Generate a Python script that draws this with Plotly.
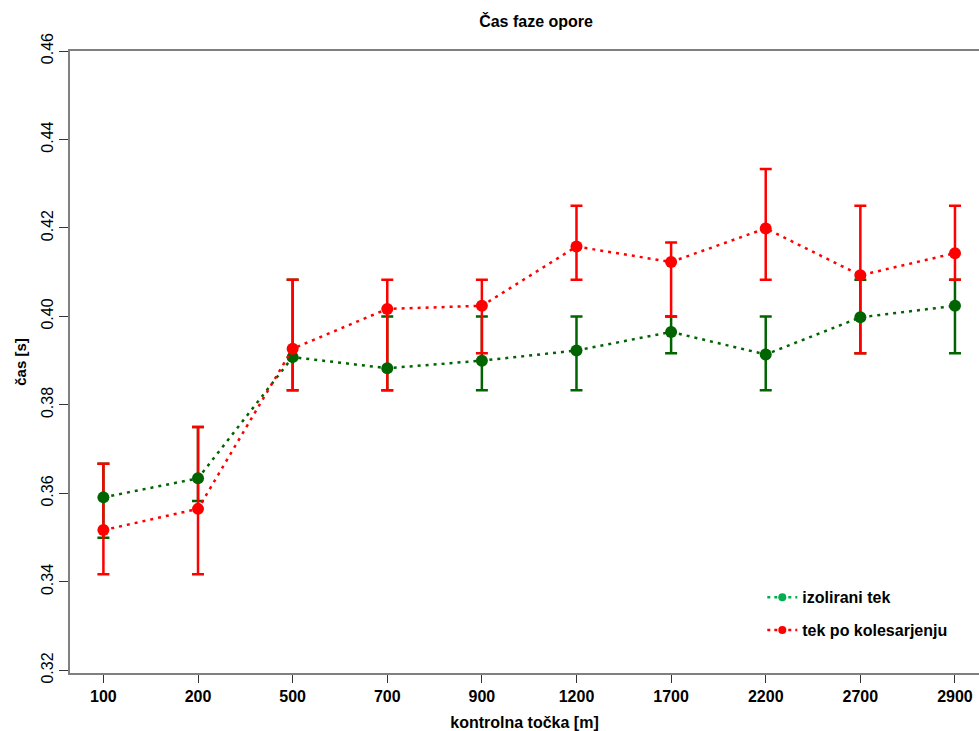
import plotly.graph_objects as go

categories = ["100", "200", "500", "700", "900", "1200", "1700", "2200", "2700", "2900"]

green_mean = [0.3591, 0.3634, 0.3908, 0.3883, 0.3900, 0.3923, 0.3965, 0.3914, 0.3998, 0.4024]
green_upper = [0.3667, 0.3750, 0.4083, 0.4000, 0.4000, 0.4000, 0.4000, 0.4000, 0.4083, 0.4083]
green_lower = [0.3500, 0.3583, 0.3833, 0.3833, 0.3833, 0.3833, 0.3917, 0.3833, 0.3917, 0.3917]

red_mean = [0.3517, 0.3565, 0.3927, 0.4017, 0.4024, 0.4158, 0.4123, 0.4199, 0.4093, 0.4143]
red_upper = [0.3667, 0.3750, 0.4083, 0.4083, 0.4083, 0.4250, 0.4167, 0.4333, 0.4250, 0.4250]
red_lower = [0.3417, 0.3417, 0.3833, 0.3833, 0.3917, 0.4083, 0.4000, 0.4083, 0.3917, 0.4083]

series_names = ["izolirani tek", "tek po kolesarjenju"]
y_ticks = [0.32, 0.34, 0.36, 0.38, 0.40, 0.42, 0.44, 0.46]

GREEN = "#006400"
GREEN_LEG = "#00b050"
RED = "#ff0000"


def err(mean, up, lo):
    return dict(type="data", symmetric=False,
                array=[u - m for u, m in zip(up, mean)],
                arrayminus=[m - l for m, l in zip(mean, lo)])


fig = go.Figure()

# error bars first (green, then red)
for mean, up, lo, col in [(green_mean, green_upper, green_lower, GREEN),
                          (red_mean, red_upper, red_lower, RED)]:
    e = err(mean, up, lo)
    e.update(color=col, thickness=2.5, width=6)
    fig.add_trace(go.Scatter(x=categories, y=mean, mode="markers",
                             marker=dict(size=1, color="rgba(0,0,0,0)"),
                             error_y=e, showlegend=False, hoverinfo="skip"))

# lines + points
for mean, col in [(green_mean, GREEN), (red_mean, RED)]:
    fig.add_trace(go.Scatter(x=categories, y=mean, mode="lines+markers",
                             line=dict(color=col, width=2.5, dash="3px,5px"),
                             marker=dict(size=12, color=col),
                             showlegend=False))

# legend entries
for i, (name, col) in enumerate(zip(series_names, [GREEN_LEG, RED])):
    fig.add_trace(go.Scatter(x=[None], y=[None], mode="lines+markers", name=name,
                             legendgroup=f"g{i}",
                             line=dict(color=col, width=2.5, dash="3px,4px"),
                             marker=dict(size=8, color=col)))

fig.update_layout(
    width=979, height=731,
    margin=dict(l=70, r=0, t=51, b=58),
    paper_bgcolor="white", plot_bgcolor="white",
    font=dict(family="Liberation Sans, Arial, sans-serif", color="#000000"),
    title=dict(text="<b>Čas faze opore</b>", x=0.5127, xref="paper",
               y=1 - 21 / 731, yref="container", xanchor="center", yanchor="middle",
               font=dict(size=16, color="#000000")),
    legend=dict(x=0.7616, y=0.149, xanchor="left", yanchor="top",
                xref="paper", yref="paper",
                traceorder="grouped", tracegroupgap=9,
                font=dict(size=16, color="#000000",
                          family="Liberation Sans, Arial, sans-serif", weight="bold"),
                bgcolor="rgba(0,0,0,0)", borderwidth=0),
    xaxis=dict(type="category", range=[-0.353, 9.254],
               showline=True, linecolor="#808080", linewidth=2, mirror=True,
               ticks="outside", ticklen=8, tickcolor="#333333", tickwidth=1,
               showgrid=False, zeroline=False,
               tickfont=dict(size=16, color="#000000", weight="bold"),
               title=dict(text="<b>kontrolna točka [m]</b>", standoff=14,
                          font=dict(size=16, color="#000000"))),
    yaxis=dict(range=[0.3194, 0.46], tickvals=y_ticks,
               ticktext=[f"{v:.2f}" for v in y_ticks],
               showline=True, linecolor="#808080", linewidth=2,
               ticks="outside", ticklen=9, tickcolor="#333333", tickwidth=1,
               showgrid=False, zeroline=False, tickangle=-90,
               tickfont=dict(size=16, color="#000000"),
               title=dict(text="<b>čas [s]</b>", standoff=8,
                          font=dict(size=15, color="#000000"))),
)

fig.write_html("out.html")
